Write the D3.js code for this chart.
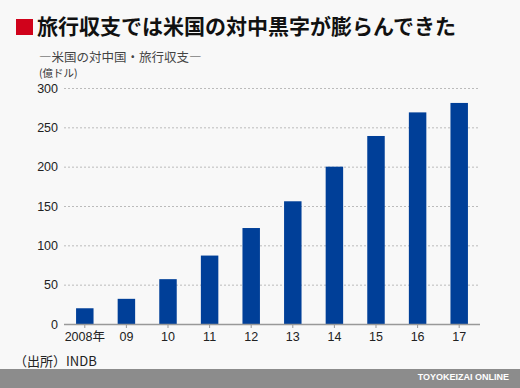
<!DOCTYPE html>
<html>
<head>
<meta charset="utf-8">
<script src="https://cdn.jsdelivr.net/npm/d3@7"></script>
<style>
body { margin: 0; background: #f8f8f8; }
svg { display: block; }
</style>
</head>
<body>
<script>
var w = 520, h = 388;

var years = ["2008年", "09", "10", "11", "12", "13", "14", "15", "16", "17"];
var balance = [20, 32, 57, 87, 122, 156, 200, 239, 269, 281];
var yTicks = [0, 50, 100, 150, 200, 250, 300];

var jp = "'Noto Sans CJK JP', sans-serif";
var num = "'Liberation Sans', 'Noto Sans CJK JP', sans-serif";

var svg = d3.select("body")
    .append("svg")
    .attr("width", w)
    .attr("height", h);

svg.append("rect")
    .attr("width", w)
    .attr("height", h)
    .attr("fill", "#f8f8f8");

// title
svg.append("rect")
    .attr("x", 16)
    .attr("y", 19)
    .attr("width", 17)
    .attr("height", 16)
    .attr("fill", "#d0021b");

svg.append("text")
    .attr("x", 37)
    .attr("y", 34)
    .style("font-family", jp)
    .style("font-weight", "bold")
    .style("font-size", "21px")
    .style("fill", "#111")
    .text("旅行収支では米国の対中黒字が膨らんできた");

svg.append("text")
    .attr("x", 39)
    .attr("y", 62)
    .style("font-family", jp)
    .style("font-size", "12.5px")
    .style("fill", "#444")
    .text("―米国の対中国・旅行収支―");

svg.append("text")
    .attr("x", 39)
    .attr("y", 77)
    .style("font-family", jp)
    .style("font-size", "10.5px")
    .style("fill", "#333")
    .text("(億ドル)");

var x = d3.scaleBand()
    .domain(years)
    .range([64, 480])
    .paddingInner(0.58)
    .paddingOuter(0.29);

var y = d3.scaleLinear()
    .domain([0, 300])
    .range([324, 88]);

// grid
svg.selectAll(".grid")
    .data(yTicks.slice(1))
    .enter()
    .append("line")
    .attr("class", "grid")
    .attr("x1", 64)
    .attr("x2", 480)
    .attr("y1", function(d){ return y(d) + 0.5; })
    .attr("y2", function(d){ return y(d) + 0.5; })
    .style("stroke", "#bbb")
    .style("stroke-width", 1)
    .style("stroke-dasharray", "2,2");

svg.selectAll(".bar")
    .data(balance)
    .enter()
    .append("rect")
    .attr("class", "bar")
    .attr("x", function(d, i){ return x(years[i]); })
    .attr("width", x.bandwidth())
    .attr("y", function(d){ return y(d); })
    .attr("height", function(d){ return y(0) - y(d); })
    .style("fill", "#003f98");

var yAxis = d3.axisLeft(y)
    .tickValues(yTicks)
    .tickSize(0)
    .tickPadding(6);

var ya = svg.append("g")
    .attr("transform", "translate(64,0)")
    .call(yAxis);
ya.select(".domain").remove();
ya.selectAll("text")
    .style("font-family", num)
    .style("font-size", "12.5px")
    .style("fill", "#222");

var xAxis = d3.axisBottom(x)
    .tickSize(4)
    .tickPadding(4);

var xa = svg.append("g")
    .attr("transform", "translate(0," + y(0) + ")")
    .call(xAxis);
xa.select(".domain")
    .attr("d", "M64,0.5H480")
    .style("stroke", "#999")
    .style("stroke-width", 1.5);
xa.selectAll(".tick line").style("stroke", "#999");
xa.selectAll("text")
    .style("font-family", num)
    .style("font-size", "12.5px")
    .style("fill", "#222");

// source
svg.append("text")
    .attr("x", 14)
    .attr("y", 366)
    .style("font-family", jp)
    .style("font-size", "13px")
    .style("fill", "#222")
    .text("（出所）INDB");

// footer
svg.append("rect")
    .attr("x", 0)
    .attr("y", 369)
    .attr("width", w)
    .attr("height", h - 369)
    .attr("fill", "#8c8c8c");

svg.append("text")
    .attr("x", 509)
    .attr("y", 380)
    .attr("text-anchor", "end")
    .style("font-family", num)
    .style("font-weight", "bold")
    .style("font-size", "9px")
    .style("fill", "#fff")
    .text("TOYOKEIZAI ONLINE");
</script>
</body>
</html>
